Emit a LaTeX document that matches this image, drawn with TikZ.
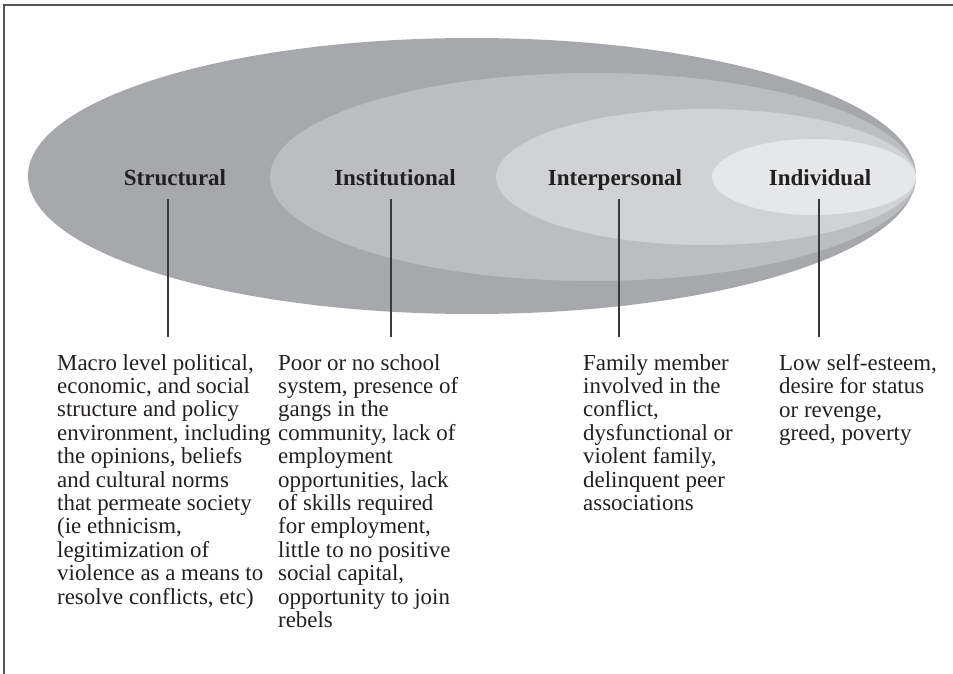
\documentclass[tikz,border=0pt]{standalone}
\usepackage{fontspec}
\setmainfont{Liberation Serif}
\usetikzlibrary{shapes.geometric}
\definecolor{ringA}{HTML}{A7A8AB}
\definecolor{ringB}{HTML}{BCBDC0}
\definecolor{ringC}{HTML}{D1D2D4}
\definecolor{ringD}{HTML}{E6E7E8}
\definecolor{inkc}{HTML}{231F20}
\definecolor{framec}{HTML}{555555}
\definecolor{linec}{HTML}{3A3A3A}
\tikzset{
  ring/.style={ellipse, draw=none, inner sep=0pt, outer sep=0pt},
  title/.style={font=\fontsize{23}{23.4}\selectfont\bfseries, text=inkc, inner sep=0pt, anchor=base},
  body/.style={font=\fontsize{22.9}{23.4}\selectfont, text=inkc, inner sep=0pt, anchor=north west, align=left},
  conn/.style={draw=linec, line width=1.3pt},
  framel/.style={draw=framec, line width=2pt}
}
\begin{document}
\begin{tikzpicture}[x=1pt,y=-1pt]
\useasboundingbox (0,0) rectangle (953,674);
\draw[framel] (953,5.5) -- (3.5,5.5) -- (3.5,674);
% rings
\node[ring, fill=ringA, minimum width=888pt, minimum height=276pt] (e1) at (472,176) {};
\node[ring, fill=ringB, minimum width=646pt, minimum height=208pt] (e2) at (593,177) {};
\node[ring, fill=ringC, minimum width=420pt, minimum height=136pt] (e3) at (706,177) {};
\node[ring, fill=ringD, minimum width=204pt, minimum height=76pt] (e4) at (814,177) {};
% titles
\node[title] (t1) at (175,185) {Structural};
\node[title] (t2) at (395,185) {Institutional};
\node[title] (t3) at (615,185) {Interpersonal};
\node[title] (t4) at (820,185) {Individual};
% connector ends
\coordinate (a1) at (168,199); \coordinate (b1) at (168,337);
\coordinate (a2) at (391,199); \coordinate (b2) at (391,337);
\coordinate (a3) at (619,199); \coordinate (b3) at (619,337);
\coordinate (a4) at (819,199); \coordinate (b4) at (819,337);
\draw[conn] (a1) -- (b1);
\draw[conn] (a2) -- (b2);
\draw[conn] (a3) -- (b3);
\draw[conn] (a4) -- (b4);
% texts
\node[body] (x1) at (57,354) {Macro level political,\\economic, and social\\structure and policy\\environment, including\\the opinions, beliefs\\and cultural norms\\that permeate society\\(ie ethnicism,\\legitimization of\\violence as a means to\\resolve conflicts, etc)};
\node[body] (x2) at (278,354) {Poor or no school\\system, presence of\\gangs in the\\community, lack of\\employment\\opportunities, lack\\of skills required\\for employment,\\little to no positive\\social capital,\\opportunity to join\\rebels};
\node[body] (x3) at (583,354) {Family member\\involved in the\\conflict,\\dysfunctional or\\violent family,\\delinquent peer\\associations};
\node[body] (x4) at (779,354) {Low self-esteem,\\desire for status\\or revenge,\\greed, poverty};
\end{tikzpicture}
\end{document}
